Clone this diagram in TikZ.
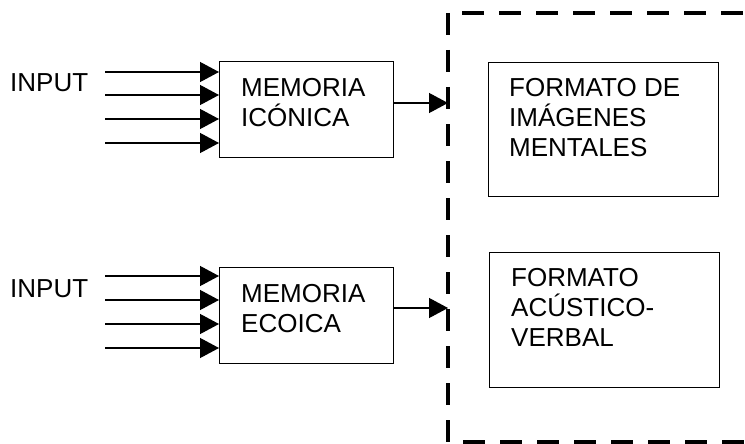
\documentclass[tikz,border=0pt]{standalone}
\usepackage{fontspec}
\setmainfont{Liberation Sans}
\usetikzlibrary{arrows.meta}
\tikzset{
  box/.style={draw, line width=1.3pt, anchor=north west, inner sep=0pt, minimum width=#1},
  txt/.style={anchor=north west, inner sep=0pt, align=left, font=\fontsize{26}{30}\selectfont},
  inarrow/.style={line width=1.3pt, -{Triangle[length=19pt,width=20pt]}},
  frame/.style={line width=4pt, dash pattern=on 22pt off 15pt},
}
\begin{document}
\begin{tikzpicture}[x=1pt,y=-1pt]
\useasboundingbox (0,0) rectangle (745,444);
% boxes
\node[box=174pt, minimum height=96pt] (mem1) at (219,61) {};
\node[box=174pt, minimum height=96pt] (mem2) at (219,267) {};
\node[box=230pt, minimum height=134pt] (fmt1) at (488,62) {};
\node[box=230pt, minimum height=135pt] (fmt2) at (489,252) {};
% texts
\node[txt] (tin1) at (10,73) {INPUT};
\node[txt] (tin2) at (10,279) {INPUT};
\node[txt] (tm1) at (241,78) {MEMORIA\\ICÓNICA};
\node[txt] (tm2) at (241,284) {MEMORIA\\ECOICA};
\node[txt] (tf1) at (509,78) {FORMATO DE\\IMÁGENES\\MENTALES};
\node[txt] (tf2) at (511,268) {FORMATO\\ACÚSTICO-\\VERBAL};
% input arrows
\foreach \i/\y in {1/72,2/95,3/119,4/143}{
  \coordinate (a\i) at (105,\y);
  \draw[inarrow] (a\i) -- (mem1.west |- a\i);
}
\foreach \i/\y in {1/276,2/300,3/324,4/348}{
  \coordinate (b\i) at (105,\y);
  \draw[inarrow] (b\i) -- (mem2.west |- b\i);
}
% dashed frame
\coordinate (ftl) at (448,13);
\coordinate (fbl) at (448,442);
\coordinate (fbr) at (745,442);
\coordinate (ftr) at (745,13);
\coordinate (ftop) at (462,13);
\draw[frame] (ftl) -- (fbl) -- (fbr);
\draw[frame] (ftop) -- (ftr);
% output arrows
\coordinate (o1) at (448,103);
\coordinate (o2) at (448,308);
\draw[inarrow] (mem1.east |- o1) -- (o1);
\draw[inarrow] (mem2.east |- o2) -- (o2);
\end{tikzpicture}
\end{document}
